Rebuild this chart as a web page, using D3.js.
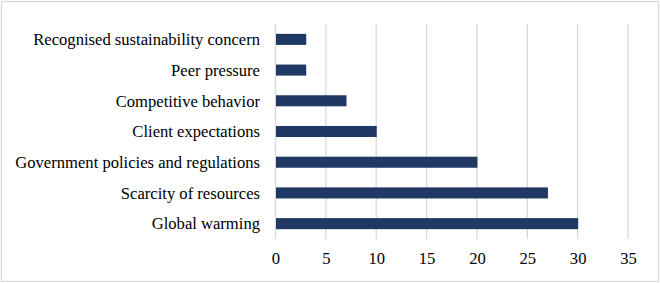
<!DOCTYPE html>
<html><head><meta charset="utf-8">
<script src="https://cdn.jsdelivr.net/npm/d3@7"></script>
<style>
html,body{margin:0;padding:0;background:#fff;}
svg text{font-family:"Liberation Serif","Times New Roman",serif;fill:#000;}
</style></head>
<body><svg id="c" width="660" height="283"></svg>
<script>
const categories = ["Recognised sustainability concern","Peer pressure","Competitive behavior","Client expectations","Government policies and regulations","Scarcity of resources","Global warming"];
const values = [3,3,7,10,20,27,30];
const xTicks = [0,5,10,15,20,25,30,35];

const svg = d3.select("#c");
svg.append("rect").attr("x",1.5).attr("y",1.5).attr("width",657).attr("height",280)
  .attr("fill","#fff").attr("stroke","#d9d9d9").attr("stroke-width",1.3);

const x = d3.scaleLinear().domain([0,35]).range([275.5,628]);
const y = d3.scaleBand().domain(categories).range([24,239]).paddingInner(0.64).paddingOuter(0.32);

// gridlines
svg.append("g").selectAll("line").data(xTicks).join("line")
  .attr("x1",d=>x(d)).attr("x2",d=>x(d)).attr("y1",24).attr("y2",239)
  .attr("stroke","#d9d9d9").attr("stroke-width",1.3);

// bars
svg.append("g").selectAll("rect").data(values).join("rect")
  .attr("x",x(0)+0.5).attr("y",(d,i)=>y(categories[i]))
  .attr("width",d=>x(d)-x(0)).attr("height",y.bandwidth())
  .attr("fill","#203864");

// y labels
svg.append("g").selectAll("text").data(categories).join("text")
  .attr("x",260).attr("y",d=>y(d)+y.bandwidth()/2).attr("dy","0.35em")
  .attr("text-anchor","end").attr("font-size",16.6).text(d=>d);

// x tick labels
const xa = d3.axisBottom(x).tickValues(xTicks).tickSize(0).tickPadding(0);
const g = svg.append("g").attr("transform","translate(0,252)").call(xa);
g.select(".domain").remove();
g.selectAll("text").attr("font-size",16.6).attr("dy","0.71em").attr("fill","#000");
g.attr("font-family",null).attr("font-size",null);
</script></body></html>
